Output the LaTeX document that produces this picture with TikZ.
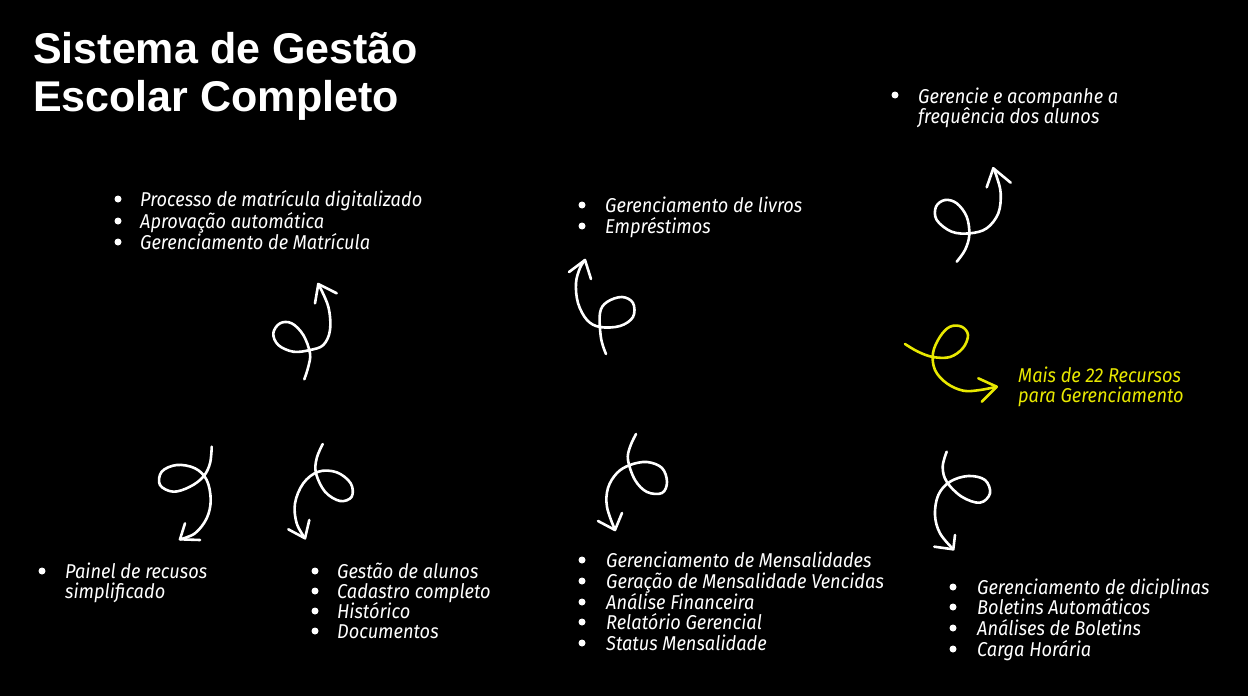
\documentclass[tikz,border=0pt]{standalone}
\usepackage{fontspec}
\newfontfamily\titlefont{Liberation Sans}
\newfontfamily\hand[FakeStretch=0.91]{Fira Sans}
\definecolor{hiyellow}{RGB}{232,232,0}
\begin{document}
\begin{tikzpicture}[x=1pt,y=-1pt,
  title/.style={anchor=base west,inner sep=0,text=white,font=\titlefont\bfseries\fontsize{43}{48}\selectfont},
  item/.style={anchor=base west,inner sep=0,text=white,font=\hand\itshape\fontsize{20}{21}\selectfont},
  yitem/.style={item,text=hiyellow},
  dot/.style={circle,fill=white,inner sep=0,minimum size=7pt},
  curl/.style={draw=white,line width=2.6pt,line cap=round,line join=round},
  ycurl/.style={curl,draw=hiyellow}]
\fill[black] (0,0) rectangle (1248,696);
\useasboundingbox (0,0) rectangle (1248,696);

% title
\node[title] (t1) at (33,63) {Sistema de Gestão};
\node[title] (t2) at (33,111) {Escolar Completo};

% block: matricula
\node[dot] (b11) at (118,199) {};
\node[dot] (b12) at (118,221) {};
\node[dot] (b13) at (118,242) {};
\node[item] (m1) at (140,206) {Processo de matrícula digitalizado};
\node[item] (m2) at (140,228) {Aprovação automática};
\node[item] (m3) at (140,249) {Gerenciamento de Matrícula};

% block: livros
\node[dot] (b21) at (582,205) {};
\node[dot] (b22) at (582,226) {};
\node[item] (l1) at (605,212) {Gerenciamento de livros};
\node[item] (l2) at (605,233) {Empréstimos};

% block: frequencia
\node[dot] (b31) at (895,95) {};
\node[item] (f1) at (918,103) {Gerencie e acompanhe a};
\node[item] (f2) at (918,123) {frequência dos alunos};

% yellow
\node[yitem] (y1) at (1018,382) {Mais de 22 Recursos};
\node[yitem] (y2) at (1018,402) {para Gerenciamento};

% painel
\node[dot] (b41) at (42,571) {};
\node[item] (p1) at (65,578) {Painel de recusos};
\node[item] (p2) at (65,598) {simplificado};

% alunos
\node[dot] (b51) at (315,571) {};
\node[dot] (b52) at (315,591) {};
\node[dot] (b53) at (315,611) {};
\node[dot] (b54) at (315,631) {};
\node[item] (a1) at (337,578) {Gestão de alunos};
\node[item] (a2) at (337,598) {Cadastro completo};
\node[item] (a3) at (337,618) {Histórico};
\node[item] (a4) at (337,638) {Documentos};

% mensalidades
\node[dot] (b61) at (582,560) {};
\node[dot] (b62) at (582,581) {};
\node[dot] (b63) at (582,602) {};
\node[dot] (b64) at (582,622) {};
\node[dot] (b65) at (582,643) {};
\node[item] (s1) at (606,567) {Gerenciamento de Mensalidades};
\node[item] (s2) at (606,588) {Geração de Mensalidade Vencidas};
\node[item] (s3) at (606,609) {Análise Financeira};
\node[item] (s4) at (606,629) {Relatório Gerencial};
\node[item] (s5) at (606,650) {Status Mensalidade};

% disciplinas
\node[dot] (b71) at (953,587) {};
\node[dot] (b72) at (953,607) {};
\node[dot] (b73) at (953,628) {};
\node[dot] (b74) at (953,649) {};
\node[item] (d1) at (977,594) {Gerenciamento de diciplinas};
\node[item] (d2) at (977,614) {Boletins Automáticos};
\node[item] (d3) at (977,635) {Análises de Boletins};
\node[item] (d4) at (977,656) {Carga Horária};

% curl A (matricula, up)
\coordinate (tipA) at (318.3,284);
\draw[curl] plot[smooth,tension=0.6] coordinates {(304.3,379.3) (308.3,366.7) (310,353.3) (303.3,335) (291.7,323.3) (280,323.3) (273.3,333.3) (278.3,345) (293.3,351.7) (310,350) (323.3,345) (330,330) (328.3,306.7) (318.3,284)};
\draw[curl] (315,303.3) -- (tipA) -- (336.7,293.3);

% curl B (livros, up)
\coordinate (tipB) at (585,260);
\draw[curl] plot[smooth,tension=0.6] coordinates {(606,354) (601,338) (600,313) (607,302) (622,297) (633,303) (633,317) (620,326) (600,327) (587,320) (578,303) (576,283) (580,268) (585,260)};
\draw[curl] (569,272) -- (tipB) -- (591,279);

% curl C (mensalidades, down)
\coordinate (tipC) at (615,530);
\draw[curl] plot[smooth,tension=0.6] coordinates {(636,434) (630,447) (628,460) (635,480) (647,492) (662,493) (667,482) (662,468) (647,462) (630,465) (617,473) (608,488) (607,507) (615,530)};
\draw[curl] (598,521) -- (tipC) -- (622,513);

% curl D (frequencia, up)
\coordinate (tipD) at (993.3,168.3);
\draw[curl] plot[smooth,tension=0.6] coordinates {(956.7,261.7) (965,250) (969.3,235) (966.7,216.7) (956.7,203.3) (945,200) (936,206.7) (936.7,220) (951.7,231.7) (970,233.3) (986.7,228.3) (998.3,213.3) (1000.7,193.3) (996.7,176.7) (993.3,168.3)};
\draw[curl] (986.7,187.3) -- (tipD) -- (1010.7,182.7);

% curl E (yellow)
\coordinate (tipE) at (996.7,386.7);
\draw[ycurl] plot[smooth,tension=0.6] coordinates {(905,344) (918,351.7) (933,357) (950,357) (963,348) (968,335) (961.7,326.7) (950,326.7) (940,336.7) (933,353) (935,370) (946.7,383.3) (963.3,390.7) (980,390) (996.7,386.7)};
\draw[ycurl] (978.3,378.3) -- (tipE) -- (981.7,401.7);

% curl F (painel, down)
\coordinate (tipF) at (180,539.3);
\draw[curl] plot[smooth,tension=0.6] coordinates {(211.7,446.7) (210,463.3) (203.3,476.7) (190,486.7) (173.3,491.7) (160,485) (161.7,471.7) (176.7,465) (195,468.3) (206.7,480) (210.7,500) (206.7,518.3) (195,533.3) (180,539.3)};
\draw[curl] (185,523.3) -- (tipF) -- (200,540);

% curl G (alunos, down)
\coordinate (tipG) at (305,538.3);
\draw[curl] plot[smooth,tension=0.6] coordinates {(322.7,444) (316.7,458.3) (316,473.3) (325,491.7) (340,501) (351.7,496.7) (350.7,483.3) (336.7,472.3) (318.3,471.7) (303.3,483.3) (295,503.3) (296.7,523.3) (305,538.3)};
\draw[curl] (288.3,529.3) -- (tipG) -- (309.3,520);

% curl H (disciplinas, down)
\coordinate (tipH) at (953.3,549.3);
\draw[curl] plot[smooth,tension=0.6] coordinates {(946.7,451.7) (942.7,466.7) (946.7,481.7) (961.7,496.7) (980,502.7) (990,493.3) (985,480) (968.3,476) (950,481.7) (938.3,495) (935,515) (940,533.3) (953.3,549.3)};
\draw[curl] (934.3,546.7) -- (tipH) -- (955,535);
\end{tikzpicture}
\end{document}
